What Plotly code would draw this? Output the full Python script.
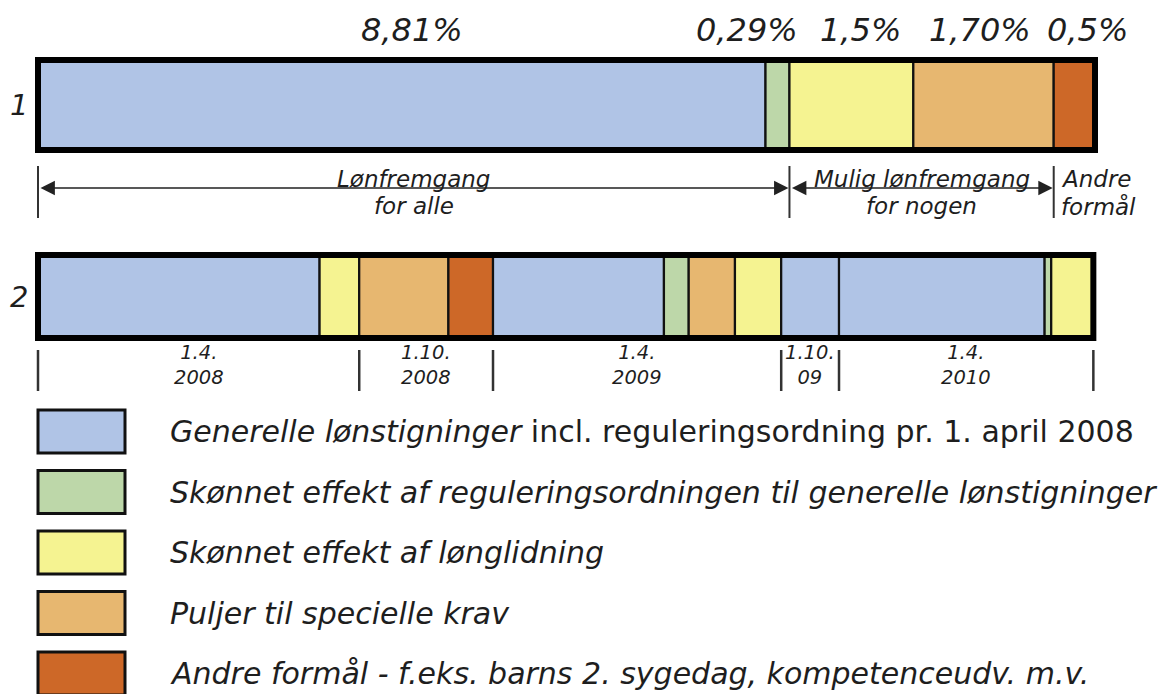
import numpy as np
import plotly.graph_objects as go

# ---------------- data ----------------
categories = [
    "Generelle lønstigninger incl. reguleringsordning pr. 1. april 2008",
    "Skønnet effekt af reguleringsordningen til generelle lønstigninger",
    "Skønnet effekt af lønglidning",
    "Puljer til specielle krav",
    "Andre formål - f.eks. barns 2. sygedag, kompetenceudv. m.v.",
]
legend_html = [
    "<i>Generelle lønstigninger</i> incl. reguleringsordning pr. 1. april 2008",
    "<i>Skønnet effekt af reguleringsordningen til generelle lønstigninger</i>",
    "<i>Skønnet effekt af lønglidning</i>",
    "<i>Puljer til specielle krav</i>",
    "<i>Andre formål - f.eks. barns 2. sygedag, kompetenceudv. m.v.</i>",
]
colors = ["#B0C4E6", "#BDD7A9", "#F5F391", "#E7B770", "#CD6828"]

row_labels = ["1", "2"]

# bar 1: total split by category
bar1_cats = [0, 1, 2, 3, 4]
bar1_values = [8.81, 0.29, 1.5, 1.70, 0.5]
bar1_text = ["8,81%", "0,29%", "1,5%", "1,70%", "0,5%"]

# brackets below bar 1 (number of consecutive segments in each group)
bracket_span = [2, 2, 1]
bracket_text = [("Lønfremgang", "for alle"), ("Mulig lønfremgang", "for nogen"), ("Andre", "formål")]

# bar 2: split by date of effect
bar2_cats = [0, 2, 3, 4, 0, 1, 3, 2, 0, 0, 1, 2]
bar2_values = [3.41, 0.48, 1.08, 0.54, 2.07, 0.30, 0.56, 0.56, 0.70, 2.49, 0.08, 0.51]
bar2_period = [0, 0, 1, 1, 2, 2, 2, 2, 3, 4, 4, 4]
period_labels = [("1.4.", "2008"), ("1.10.", "2008"), ("1.4.", "2009"), ("1.10.", "09"), ("1.4.", "2010")]

# ---------------- layout constants ----------------
VW, VH = 1170, 694          # browser viewport
OFF = 8                     # default page body margin
W, H = VW - OFF, VH - OFF   # figure size so it fits exactly in the viewport
X0_PX, X1_PX = 38, 1095     # viewport px of bar start / end
total1 = float(np.sum(bar1_values))
k = (X1_PX - X0_PX) / total1          # px per percentage point
xrange_ = [-(X0_PX - OFF) / k, (VW - X0_PX) / k]


def paper_x(px):
    return (px - OFF) / W


FONT = "DejaVu Sans"
TXT = "#1e1e1e"
BAR1_Y = (60, 150)
BAR2_Y = (255, 338)

fig = go.Figure()


def add_bar(values, cats, yspan):
    base = np.concatenate([[0.0], np.cumsum(values)[:-1]])
    yc = (yspan[0] + yspan[1]) / 2
    h = yspan[1] - yspan[0]
    for v, b, c in zip(values, base, cats):
        fig.add_trace(go.Bar(
            x=[v], base=[b], y=[yc], width=[h], orientation="h",
            marker=dict(color=colors[c], line=dict(color="#111", width=2.2)),
            name=categories[c], hovertemplate=categories[c] + ": %{x}%<extra></extra>",
            showlegend=False,
        ))
    tot = float(np.sum(values))
    fig.add_shape(type="rect", x0=0, x1=tot, y0=yspan[0], y1=yspan[1],
                  xref="x", yref="y", line=dict(color="#000", width=6), layer="above")
    return base, tot


base1, tot1 = add_bar(bar1_values, bar1_cats, BAR1_Y)
base2, tot2 = add_bar(bar2_values, bar2_cats, BAR2_Y)

ann = []

# percentage labels above bar 1
label_shift = [10, -30, 9, -4, 13]
for v, b, t, s in zip(bar1_values, base1, bar1_text, label_shift):
    ann.append(dict(x=b + v / 2, y=30, xref="x", yref="y", text="<i>" + t + "</i>",
                    showarrow=False, xshift=s, xanchor="center",
                    font=dict(size=32, color=TXT, family=FONT)))

# row numbers
for lab, ys in zip(row_labels, [BAR1_Y, BAR2_Y]):
    ann.append(dict(x=paper_x(19), y=(ys[0] + ys[1]) / 2, xref="paper", yref="y",
                    text="<i>" + lab + "</i>", showarrow=False, xanchor="center",
                    font=dict(size=29, color=TXT, family=FONT)))

# brackets under bar 1
edges = np.concatenate([[0.0], np.cumsum(bar1_values)])
grp_idx = np.concatenate([[0], np.cumsum(bracket_span)])
grp_edges = edges[grp_idx]
ARROW_Y = 188
for i, e in enumerate(grp_edges[:-1]):
    fig.add_shape(type="line", x0=e, x1=e, y0=166, y1=218, xref="x", yref="y",
                  line=dict(color="#333", width=2))
for i in range(len(bracket_span)):
    a, b = grp_edges[i], grp_edges[i + 1]
    if i < len(bracket_span) - 1:
        ann.append(dict(x=b, y=ARROW_Y, ax=a, ay=ARROW_Y, xref="x", yref="y",
                        axref="x", ayref="y", text="", showarrow=True,
                        arrowhead=2, arrowside="end+start", arrowsize=1.8,
                        arrowwidth=1.6, arrowcolor="#222", standoff=1, startstandoff=1))
        cx = (a + b) / 2
        anchor, sh = "center", 0
    else:
        cx = a
        anchor, sh = "left", 5
    l1, l2 = bracket_text[i]
    ann.append(dict(x=cx, y=179, xref="x", yref="y", text="<i>" + l1 + "</i>",
                    showarrow=False, xanchor=anchor, xshift=sh,
                    font=dict(size=23, color=TXT, family=FONT)))
    ann.append(dict(x=cx, y=206, xref="x", yref="y", text="<i>" + l2 + "</i>",
                    showarrow=False, xanchor=anchor, xshift=sh,
                    font=dict(size=23, color=TXT, family=FONT)))

# period ticks and labels under bar 2
bar2_values_arr = np.array(bar2_values)
bar2_period_arr = np.array(bar2_period)
period_sums = [bar2_values_arr[bar2_period_arr == p].sum() for p in range(len(period_labels))]
p_edges = np.concatenate([[0.0], np.cumsum(period_sums)])
for e in p_edges:
    fig.add_shape(type="line", x0=e, x1=e, y0=350, y1=391, xref="x", yref="y",
                  line=dict(color="#333", width=2.5))
for i, (l1, l2) in enumerate(period_labels):
    cx = (p_edges[i] + p_edges[i + 1]) / 2
    ann.append(dict(x=cx, y=365, xref="x", yref="y", xanchor="center",
                    text="<i>" + l1 + "<br>" + l2 + "</i>",
                    showarrow=False, font=dict(size=19.5, color=TXT, family=FONT)))

# custom legend
LEG_TOP, LEG_STEP, LEG_H = 410, 60.5, 43
for i, (c, txt) in enumerate(zip(colors, legend_html)):
    y0 = LEG_TOP + i * LEG_STEP
    fig.add_shape(type="rect", x0=paper_x(38), x1=paper_x(125), y0=y0, y1=y0 + LEG_H,
                  xref="paper", yref="y", fillcolor=c, line=dict(color="#111", width=3))
    ann.append(dict(x=paper_x(168), y=y0 + LEG_H / 2, xref="paper", yref="y", text=txt,
                    showarrow=False, xanchor="left",
                    font=dict(size=30, color=TXT, family=FONT)))

fig.update_layout(
    width=W, height=H, margin=dict(l=0, r=0, t=0, b=0, autoexpand=False),
    paper_bgcolor="white", plot_bgcolor="white",
    barmode="overlay", showlegend=False, annotations=ann,
    xaxis=dict(range=xrange_, visible=False, fixedrange=True),
    yaxis=dict(range=[VH, OFF], visible=False, fixedrange=True),
    font=dict(family=FONT),
)

fig.write_html("out.html")
